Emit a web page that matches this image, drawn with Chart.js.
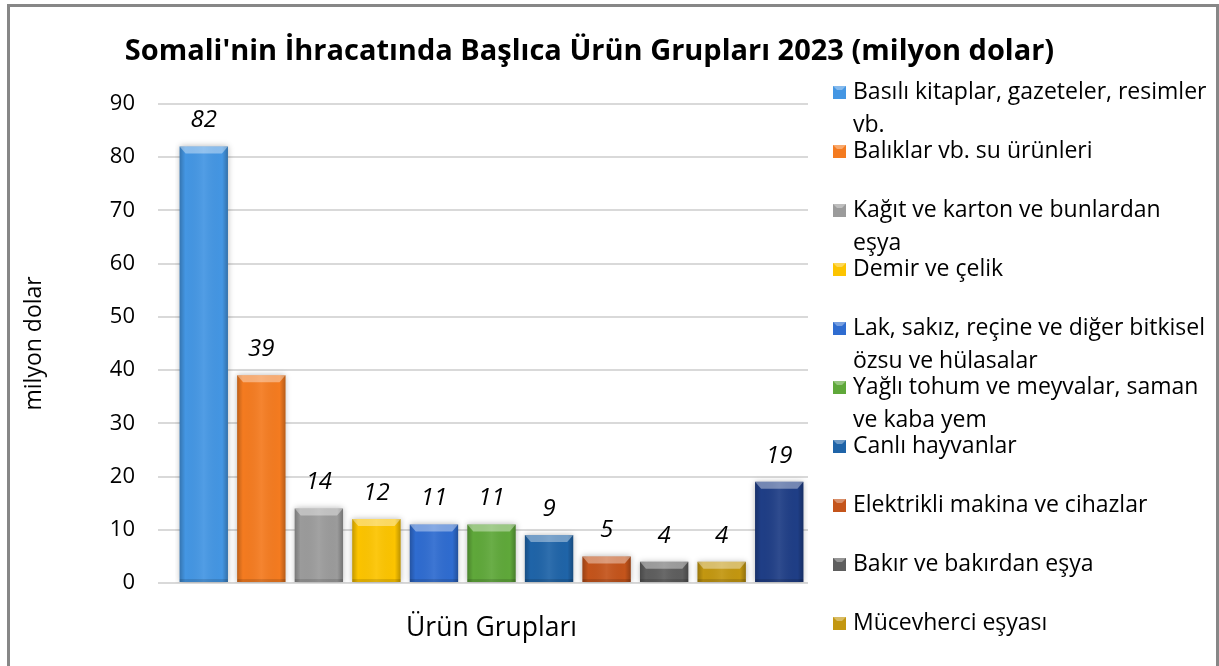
<!DOCTYPE html>
<html>
<head>
<meta charset="utf-8">
<title>Somali ihracat</title>
<script src="https://cdn.jsdelivr.net/npm/chart.js@4.4.1/dist/chart.umd.min.js"></script>
<style>
  html, body { margin: 0; padding: 0; background: #fff; }
  #wrap { position: relative; width: 1219px; height: 666px; overflow: hidden; }
  #wrap canvas { position: absolute; left: 0; top: 0; }
  #frame { position: absolute; left: 7px; top: 4px; width: 1212px; height: 720px;
           border: 3px solid #878787; box-sizing: border-box; pointer-events: none; }
</style>
</head>
<body>
<div id="wrap">
  <canvas id="myChart" width="1219" height="666"></canvas>
  <div id="frame"></div>
</div>
<script>
const FONT = '"Open Sans", "Noto Sans", sans-serif';

const categories = [
  'Basılı kitaplar, gazeteler, resimler vb.',
  'Balıklar vb. su ürünleri',
  'Kağıt ve karton ve bunlardan eşya',
  'Demir ve çelik',
  'Lak, sakız, reçine ve diğer bitkisel özsu ve hülasalar',
  'Yağlı tohum ve meyvalar, saman ve kaba yem',
  'Canlı hayvanlar',
  'Elektrikli makina ve cihazlar',
  'Bakır ve bakırdan eşya',
  'Mücevherci eşyası',
  'Diğer'
];
const values = [82, 39, 14, 12, 11, 11, 9, 5, 4, 4, 19];
const barColors = [
  '#4496e3', '#f47b20', '#9b9b9b', '#fcc400', '#2f6cd0', '#5fa83a',
  '#1f64a8', '#c4541b', '#5e5e5e', '#c39710', '#1f3e86'
];
const yTicks = [0, 10, 20, 30, 40, 50, 60, 70, 80, 90];
// only the first ten groups fit in the side legend
const legendCount = 10;

const titleText = "Somali'nin İhracatında Başlıca Ürün Grupları 2023 (milyon dolar)";
const xTitle = 'Ürün Grupları';
const yTitle = 'milyon dolar';

function wrapText(ctx, text, maxWidth) {
  const words = text.split(' ');
  const lines = [];
  let line = '';
  for (const w of words) {
    const test = line ? line + ' ' + w : w;
    if (ctx.measureText(test).width > maxWidth && line) {
      lines.push(line);
      line = w;
    } else {
      line = test;
    }
  }
  if (line) lines.push(line);
  return lines;
}

// soft shadow behind the bars
const barShadow = {
  id: 'barShadow',
  beforeDatasetsDraw(chart) {
    const ctx = chart.ctx;
    ctx.save();
    ctx.shadowColor = 'rgba(0,0,0,0.28)';
    ctx.shadowBlur = 6;
  },
  afterDatasetsDraw(chart) {
    chart.ctx.restore();
  }
};

// bevel shading on each bar + value labels on top
const barDecor = {
  id: 'barDecor',
  afterDatasetsDraw(chart) {
    const ctx = chart.ctx;
    const meta = chart.getDatasetMeta(0);
    const data = chart.data.datasets[0].data;
    ctx.save();
    meta.data.forEach((bar, i) => {
      const { x, y, base, width } = bar.getProps(['x', 'y', 'base', 'width'], true);
      const l = x - width / 2, r = x + width / 2, h = base - y;

      const g = ctx.createLinearGradient(l, 0, r, 0);
      g.addColorStop(0, 'rgba(0,0,0,0.22)');
      g.addColorStop(0.12, 'rgba(0,0,0,0)');
      g.addColorStop(0.5, 'rgba(255,255,255,0.07)');
      g.addColorStop(0.88, 'rgba(0,0,0,0)');
      g.addColorStop(1, 'rgba(0,0,0,0.25)');
      ctx.fillStyle = g;
      ctx.fillRect(l, y, width, h);

      const bh = Math.min(7, h / 2);
      ctx.beginPath();
      ctx.moveTo(l, y);
      ctx.lineTo(r, y);
      ctx.lineTo(r - 6, y + bh);
      ctx.lineTo(l + 6, y + bh);
      ctx.closePath();
      ctx.fillStyle = 'rgba(255,255,255,0.38)';
      ctx.fill();

      ctx.fillStyle = 'rgba(0,0,0,0.12)';
      ctx.fillRect(l, base - 3, width, 3);

      ctx.fillStyle = '#000';
      ctx.font = `italic 24px ${FONT}`;
      ctx.textAlign = 'center';
      ctx.textBaseline = 'middle';
      ctx.fillText(String(data[i]), x, y - 26);
    });
    ctx.restore();
  }
};

const sideLegend = {
  id: 'sideLegend',
  afterDraw(chart) {
    const ctx = chart.ctx;
    const colors = chart.data.datasets[0].backgroundColor;
    ctx.save();
    ctx.font = `23px ${FONT}`;
    ctx.textBaseline = 'middle';
    ctx.textAlign = 'left';
    for (let i = 0; i < legendCount; i++) {
      const y = 92 + i * 59;
      const sx = 833, sy = y - 6, s = 13;
      ctx.fillStyle = colors[i];
      ctx.fillRect(sx, sy, s, s);
      ctx.fillStyle = 'rgba(255,255,255,0.35)';
      ctx.beginPath();
      ctx.moveTo(sx, sy); ctx.lineTo(sx + s, sy);
      ctx.lineTo(sx + s - 4, sy + 4); ctx.lineTo(sx + 4, sy + 4);
      ctx.closePath(); ctx.fill();
      ctx.fillStyle = '#000';
      const lines = wrapText(ctx, chart.data.labels[i], 356);
      lines.forEach((line, k) => ctx.fillText(line, 853, y + k * 33));
    }
    ctx.restore();
  }
};

const ctx = document.getElementById('myChart');

new Chart(ctx, {
  type: 'bar',
  data: {
    labels: categories,
    datasets: [{
      data: values,
      backgroundColor: barColors,
      borderWidth: 0,
      barPercentage: 0.84,
      categoryPercentage: 1
    }]
  },
  options: {
    responsive: false,
    animation: false,
    layout: { padding: { left: 0, right: 40, top: 0, bottom: 0 } },
    plugins: {
      legend: { display: false },
      tooltip: { enabled: false },
      title: {
        display: true,
        text: titleText,
        color: '#000',
        font: { family: FONT, size: 29, weight: 'bold' },
        padding: { top: 34, bottom: 35 }
      }
    },
    scales: {
      x: {
        offset: true,
        grid: { display: false },
        border: { display: false },
        ticks: { display: false },
        title: {
          display: true,
          text: xTitle,
          color: '#000',
          font: { family: FONT, size: 26.5 },
          padding: { top: 0, bottom: 22 }
        },
        afterFit(scale) { scale.height = 83; }
      },
      y: {
        min: 0,
        max: 90,
        afterBuildTicks(scale) { scale.ticks = yTicks.map(v => ({ value: v })); },
        grid: { color: '#d9d9d9', lineWidth: 2, tickLength: 17, tickColor: '#d9d9d9' },
        border: { display: false },
        ticks: { color: '#000', font: { family: FONT, size: 22 }, padding: 23 },
        title: {
          display: true,
          text: yTitle,
          color: '#000',
          font: { family: FONT, size: 23 },
          padding: { top: 21, bottom: 0 }
        },
        afterFit(scale) { scale.width = 175; }
      },
      // empty axis that keeps room for the side legend
      side: {
        type: 'linear',
        position: 'right',
        display: true,
        grid: { display: false },
        border: { display: false },
        ticks: { display: false },
        afterFit(scale) { scale.width = 371; }
      }
    }
  },
  plugins: [barShadow, barDecor, sideLegend]
});
</script>
</body>
</html>
